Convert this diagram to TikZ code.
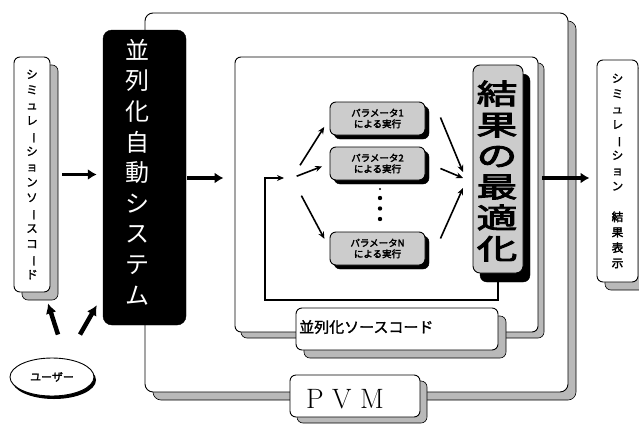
\documentclass[tikz,border=0pt]{standalone}
\usepackage{fontspec}
\usepackage{graphicx}
\usetikzlibrary{arrows.meta,calc,shapes.geometric}
\newfontfamily\jp{Noto Sans CJK JP}
\newfontfamily\jpb[FakeBold=1.5]{Noto Sans CJK JP}
\newfontfamily\jpbb[FakeBold=3]{Noto Sans CJK JP}
\newcommand\vchoon{\rotatebox[origin=c]{-90}{ー}}
\begin{document}
\begin{tikzpicture}[x=1pt,y=-1pt,
  box/.style={draw=black, line width=0.9pt, rounded corners=6pt, inner sep=0pt, fill=white},
  gshad/.style={draw=black, line width=0.6pt, rounded corners=6pt, inner sep=0pt, fill=gray!55},
  kshad/.style={draw=black, rounded corners=6pt, inner sep=0pt, fill=black},
  parsize/.style={minimum width=95pt, minimum height=33pt},
  parbox/.style={box, fill=gray!40, parsize, font=\jpbb\fontsize{9.5}{11}\selectfont, align=center},
  bigarrow/.style={line width=3.5pt, -{Latex[length=9pt,width=11pt]}},
  userarrow/.style={line width=4.5pt, -{Latex[length=10pt,width=11pt]}},
  thinarrow/.style={line width=1.6pt, -{Stealth[length=7pt,width=6pt]}},
  vsmall/.style={align=center, font=\jpb\fontsize{11.5}{15.4}\selectfont},
]
\useasboundingbox (0,0) rectangle (639,423);

% outer PVM frame
\node[gshad, rounded corners=8pt, minimum width=423pt, minimum height=379pt] (frame-sh) at (364.5,210.5) {};
\node[box, rounded corners=8pt, minimum width=423pt, minimum height=379pt] (frame) at (356.5,202.5) {};
% black automatic parallelization system
\node[draw=black, fill=black, rounded corners=9pt, minimum width=83pt, minimum height=295pt, inner sep=0pt] (auto) at (144.5,177.5) {};
\node[align=center, text=white, font=\jp\fontsize{24}{30.6}\selectfont] (autotext) at (137,172)
  {並\\列\\化\\自\\動\\シ\\ス\\テ\\ム};
% inner box
\node[gshad, minimum width=303pt, minimum height=275pt] (inner-sh) at (392.5,200.5) {};
\node[box, minimum width=303pt, minimum height=275pt] (inner) at (386.5,194.5) {};
% parallel source code label box
\node[gshad, minimum width=202pt, minimum height=42pt] (srcpar-sh) at (405,337) {};
\node[box, minimum width=202pt, minimum height=42pt] (srcpar) at (397,329) {};
\node[anchor=west, font=\jpb\fontsize{15}{15}\selectfont, inner sep=0pt] (srcpartext) at (299,327) {並列化ソースコード};
% PVM label box
\node[gshad, minimum width=130pt, minimum height=42pt] (pvm-sh) at (362,402) {};
\node[box, minimum width=130pt, minimum height=42pt] (pvm) at (355,396) {};
\node[font=\fontsize{28}{28}\selectfont, inner sep=0pt] (pvmtext) at (345,399) {P V M};

% fan point and merge point
\coordinate (fan) at (292,178);
\coordinate (fb) at (265,300);
\coordinate (conv) at (464,179);

% result optimization
\node[kshad, rounded corners=7pt, minimum width=50pt, minimum height=208pt] (result-sh) at (505,178) {};
\draw[thinarrow, shorten >=8pt] (result-sh.south) ++(-7,0) |- (fb) |- (fan);
\node[box, fill=gray!40, rounded corners=7pt, minimum width=50pt, minimum height=208pt] (result) at (498,169) {};
\node[align=center, xscale=1.45, transform shape, font=\jpbb\fontsize{28}{31}\selectfont] (resulttext) at (497,171)
  {結\\果\\の\\最\\適\\化};

% parameter runs
\node[kshad, parsize] (p1-sh) at (381.5,122.5) {};
\node[parbox] (p1) at (377.5,118.5) {パラメータ1\\による実行};
\node[kshad, parsize] (p2-sh) at (381.5,167.5) {};
\node[parbox] (p2) at (377.5,163.5) {パラメータ2\\による実行};
\node[kshad, parsize] (pN-sh) at (381.5,252.5) {};
\node[parbox] (pN) at (377.5,248.5) {パラメータN\\による実行};
\fill (380,189) circle (1.2pt);
\fill (380,198) circle (2.2pt);
\fill (380,208.5) circle (2.2pt);
\fill (380,219) circle (2.2pt);

\draw[thinarrow, shorten <=15pt, shorten >=10pt] (fan) -- (p1.west);
\draw[thinarrow, shorten <=5pt, shorten >=8pt] (fan) -- (p2.west);
\draw[thinarrow, shorten <=20pt, shorten >=11pt] (fan) -- (pN.west);
\draw[thinarrow] ($(p1.east)+(15,-1)$) -- ($(conv)+(-1,-7)$);
\draw[thinarrow] ($(p2.east)+(15,5)$) -- ($(conv)+(-1,-1)$);
\draw[thinarrow] ($(pN.east)+(15,-10)$) -- ($(conv)+(-1,9)$);

% left source box
\node[gshad, minimum width=36pt, minimum height=235pt] (src-sh) at (40,182.5) {};
\node[box, minimum width=36pt, minimum height=235pt, vsmall] (src) at (32,174.5)
  {シ\\ミ\\ュ\\レ\\\vchoon\\シ\\ョ\\ン\\ソ\\\vchoon\\ス\\コ\\\vchoon\\ド};
% right result display box
\node[gshad, minimum width=41pt, minimum height=222pt] (disp-sh) at (625.5,179) {};
\node[box, minimum width=41pt, minimum height=222pt, vsmall] (disp) at (617.5,171)
  {シ\\ミ\\ュ\\レ\\\vchoon\\シ\\ョ\\ン\\ \\{\jpbb 結}\\{\jpbb 果}\\{\jpbb 表}\\{\jpbb 示}};

% user
\node[fill=black, ellipse, minimum width=84pt, minimum height=38pt] (user-sh) at (54,380) {};
\node[draw=black, line width=0.9pt, fill=white, ellipse, minimum width=84pt, minimum height=38pt,
  font=\jpb\fontsize{11}{11}\selectfont] (user) at (52,377) {ユーザー};

% main arrows
\draw[bigarrow, shorten <=12pt, shorten >=6pt] (src.east) -- (src.east -| auto.west);
\draw[bigarrow, shorten <=1pt, shorten >=11pt] (auto.east |- fan) -- (inner.west |- fan);
\draw[bigarrow, shorten <=4pt, shorten >=7pt] (inner.east |- fan) -- (disp.west |- fan);
\draw[userarrow] ($(user.north)+(6,-23)$) -- ($(src.south)+(16,11)$);
\draw[userarrow] ($(user.north)+(28,-23)$) -- ($(auto.south west)+(-6,-20)$);
\end{tikzpicture}
\end{document}
